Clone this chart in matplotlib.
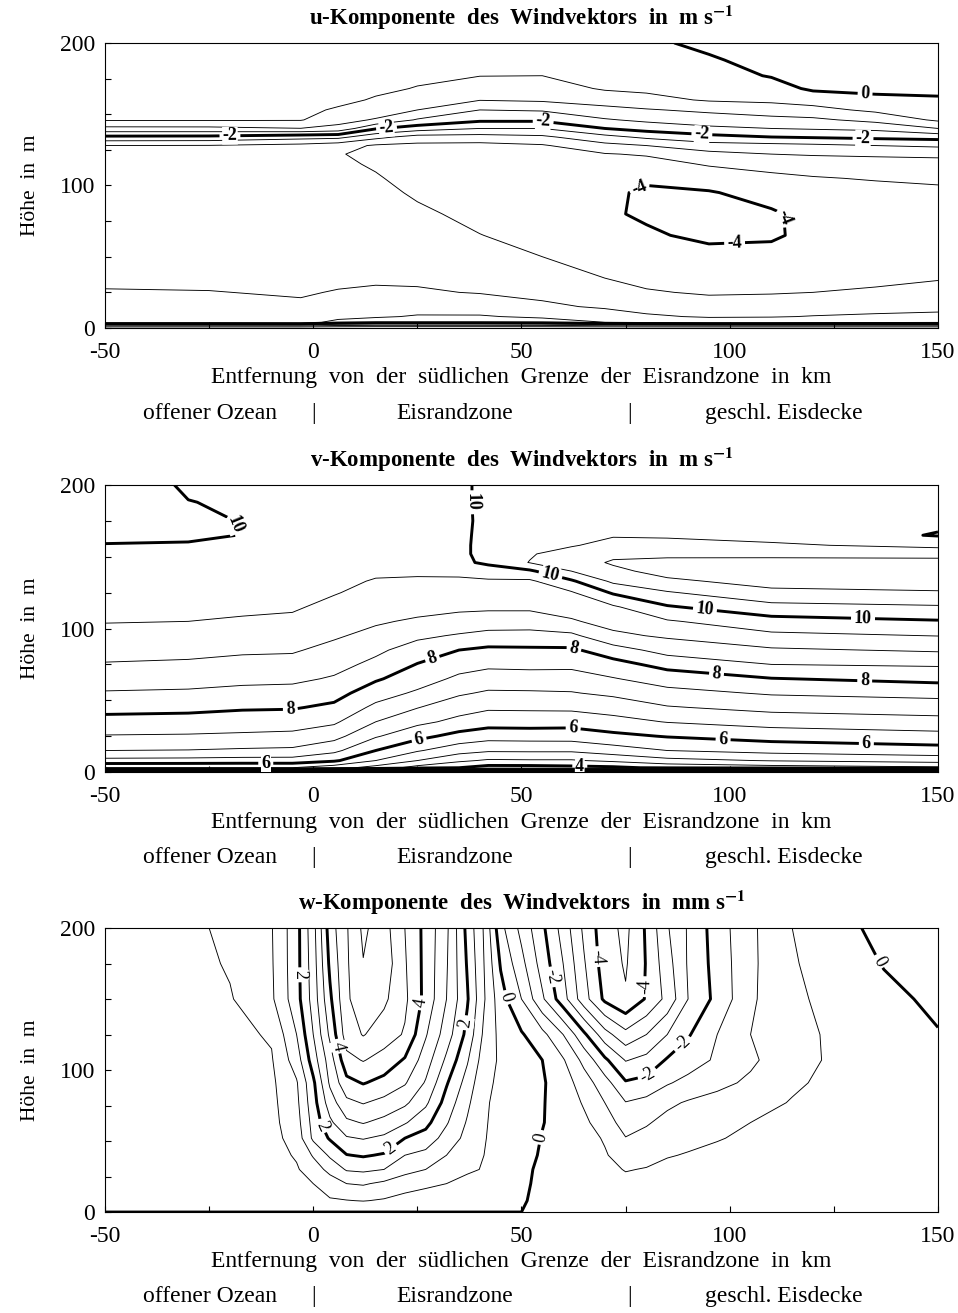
import numpy as np
import matplotlib
matplotlib.use("Agg")
import matplotlib.pyplot as plt
from matplotlib.transforms import blended_transform_factory

plt.rcParams['font.family'] = ['Liberation Serif', 'DejaVu Serif']
plt.rcParams['mathtext.fontset'] = 'stix'
plt.rcParams['axes.unicode_minus'] = False
plt.rcParams['contour.negative_linestyle'] = 'solid'

# ---------------- u-Komponente (m/s) ----------------
u_x = [-50, -25, -3, 6, 15, 25, 40, 55, 70, 80, 95, 110, 120, 135, 150]
u_z = [0, 4, 8, 15, 25, 35, 50, 65, 80, 95, 105, 115, 122, 128, 134, 140,
       146, 153, 160, 168, 177, 188, 200]
# one list per x column, bottom to top
u_cols = [
    [0, -2.7, -2.85, -2.92, -2.98, -3.06, -3.12, -3.17, -3.21, -3.25, -3.28, -3.32, -3.35, -3.0, -2.1, -1.13, -0.45, -0.38, -0.33, -0.3, -0.27, -0.24, -0.2],
    [0, -2.7, -2.85, -2.92, -2.99, -3.07, -3.13, -3.18, -3.22, -3.26, -3.29, -3.33, -3.36, -3.02, -2.12, -1.12, -0.45, -0.38, -0.33, -0.3, -0.27, -0.24, -0.2],
    [0, -2.75, -2.88, -2.95, -3.03, -3.1, -3.18, -3.24, -3.29, -3.33, -3.36, -3.4, -3.44, -3.15, -2.3, -1.01, -0.47, -0.4, -0.36, -0.33, -0.3, -0.27, -0.24],
    [0, -2.3, -2.7, -2.88, -2.98, -3.07, -3.15, -3.22, -3.28, -3.33, -3.37, -3.42, -3.48, -3.3, -2.35, -1.15, -0.82, -0.55, -0.4, -0.35, -0.31, -0.28, -0.25],
    [0, -2.15, -2.57, -2.8, -2.95, -3.05, -3.12, -3.2, -3.28, -3.38, -3.46, -3.55, -3.58, -3.56, -2.85, -1.95, -1.05, -0.72, -0.54, -0.42, -0.36, -0.3, -0.25],
    [0, -2.15, -2.45, -2.75, -2.96, -3.06, -3.18, -3.3, -3.42, -3.56, -3.65, -3.72, -3.7, -3.62, -3.2, -2.25, -1.55, -1.0, -0.75, -0.52, -0.42, -0.35, -0.3],
    [0, -2.15, -2.45, -2.78, -3.02, -3.18, -3.35, -3.49, -3.62, -3.72, -3.78, -3.8, -3.76, -3.65, -3.2, -2.5, -1.9, -1.5, -0.98, -0.75, -0.49, -0.38, -0.3],
    [0, -2.2, -2.6, -2.93, -3.1, -3.28, -3.5, -3.65, -3.8, -3.88, -3.9, -3.85, -3.72, -3.55, -3.1, -2.5, -1.9, -1.45, -0.92, -0.72, -0.5, -0.38, -0.3],
    [0, -2.5, -2.8, -3.05, -3.3, -3.5, -3.7, -3.85, -3.95, -3.93, -3.85, -3.7, -3.53, -3.15, -2.65, -2.0, -1.55, -1.15, -0.78, -0.45, -0.35, -0.25, -0.18],
    [0, -2.6, -2.93, -3.18, -3.46, -3.62, -3.8, -3.95, -4.05, -4.05, -3.95, -3.7, -3.45, -3.0, -2.4, -1.8, -1.4, -1.04, -0.65, -0.4, -0.28, -0.17, -0.08],
    [0, -2.7, -3.05, -3.3, -3.55, -3.7, -3.88, -4.08, -4.15, -4.03, -3.8, -3.45, -3.15, -2.7, -2.15, -1.6, -1.25, -0.9, -0.45, -0.3, -0.18, -0.05, 0.1],
    [0, -2.7, -3.03, -3.28, -3.53, -3.7, -3.88, -4.05, -4.05, -3.85, -3.6, -3.35, -3.0, -2.65, -2.0, -1.5, -1.15, -0.75, -0.4, -0.2, 0.03, 0.15, 0.25],
    [0, -2.65, -2.98, -3.22, -3.5, -3.65, -3.8, -3.9, -3.88, -3.72, -3.53, -3.3, -2.95, -2.6, -1.95, -1.45, -1.1, -0.65, -0.3, 0.08, 0.2, 0.3, 0.38],
    [0, -2.6, -2.93, -3.17, -3.44, -3.6, -3.75, -3.82, -3.78, -3.64, -3.47, -3.22, -2.92, -2.5, -1.88, -1.38, -0.85, -0.4, -0.12, 0.12, 0.25, 0.33, 0.4],
    [0, -2.55, -2.9, -3.12, -3.35, -3.53, -3.67, -3.73, -3.7, -3.57, -3.44, -3.2, -2.88, -2.42, -1.82, -1.0, -0.42, -0.2, -0.05, 0.1, 0.22, 0.3, 0.36],
]
u_levels = np.arange(-4.0, 0.01, 0.5)
u_labels = [(-20, 135), (17.6, 140), (55.2, 144.8), (93.3, 135.4), (132, 133),
            (132.5, 164.7), (78, 100.4), (114, 78), (101.2, 57)]

# ---------------- v-Komponente (m/s) ----------------
v_x = [-50, -30, -17, -5, 5, 15, 25, 35, 42, 52, 62, 72, 85, 110, 150]
v_z = [0, 3, 8, 15, 25, 35, 45, 55, 65, 75, 85, 95, 105, 115, 125, 133, 140,
       146, 152, 158, 165, 175, 188, 200]
v_cols = [
    [0, 5.5, 6.35, 7.0, 7.47, 7.83, 8.16, 8.46, 8.72, 8.97, 9.16, 9.36, 9.52, 9.6, 9.69, 9.77, 9.83, 9.88, 9.94, 9.99, 10.05, 10.14, 10.22, 10.3],
    [0, 5.5, 6.33, 6.98, 7.45, 7.8, 8.13, 8.43, 8.68, 8.93, 9.13, 9.33, 9.5, 9.6, 9.69, 9.77, 9.83, 9.88, 9.93, 9.98, 10.04, 10.06, 10.01, 9.94],
    [0, 5.5, 6.3, 6.93, 7.42, 7.74, 8.06, 8.36, 8.62, 8.86, 9.07, 9.25, 9.46, 9.57, 9.67, 9.75, 9.81, 9.86, 9.9, 9.96, 9.995, 9.99, 9.95, 9.88],
    [0, 5.5, 6.3, 6.9, 7.38, 7.72, 8.04, 8.33, 8.6, 8.84, 9.05, 9.22, 9.4, 9.56, 9.63, 9.68, 9.72, 9.75, 9.78, 9.8, 9.83, 9.85, 9.86, 9.86],
    [0, 5.2, 6.08, 6.62, 7.17, 7.58, 7.9, 8.18, 8.45, 8.66, 8.86, 9.06, 9.22, 9.37, 9.53, 9.6, 9.65, 9.7, 9.73, 9.76, 9.79, 9.82, 9.84, 9.85],
    [0, 4.8, 5.5, 6.0, 6.55, 7.0, 7.38, 7.73, 8.06, 8.38, 8.6, 8.86, 9.06, 9.2, 9.35, 9.47, 9.57, 9.63, 9.68, 9.72, 9.76, 9.8, 9.83, 9.85],
    [0, 4.3, 5.0, 5.55, 6.15, 6.62, 7.02, 7.42, 7.74, 7.98, 8.28, 8.6, 8.93, 9.17, 9.33, 9.45, 9.56, 9.62, 9.67, 9.72, 9.76, 9.8, 9.84, 9.87],
    [0, 4.0, 4.6, 5.2, 5.83, 6.37, 6.69, 7.07, 7.4, 7.7, 8.0, 8.45, 8.82, 9.1, 9.28, 9.43, 9.6, 9.88, 9.9, 9.9, 9.91, 9.91, 9.92, 9.92],
    [0, 3.8, 4.43, 5.07, 5.7, 6.22, 6.57, 6.93, 7.28, 7.6, 7.9, 8.35, 8.75, 9.09, 9.28, 9.44, 9.74, 10.1, 10.15, 10.15, 10.12, 10.1, 10.1, 10.1],
    [0, 3.8, 4.45, 5.08, 5.72, 6.23, 6.58, 6.94, 7.3, 7.62, 7.92, 8.33, 8.75, 9.09, 9.27, 9.42, 9.92, 10.52, 10.45, 10.3, 10.22, 10.18, 10.15, 10.12],
    [0, 3.85, 4.45, 5.08, 5.73, 6.2, 6.6, 6.97, 7.28, 7.62, 7.92, 8.39, 8.95, 9.2, 9.45, 9.93, 10.5, 10.8, 10.75, 10.45, 10.3, 10.22, 10.17, 10.13],
    [0, 3.9, 4.6, 5.27, 5.88, 6.34, 6.7, 7.1, 7.47, 7.82, 8.28, 8.9, 9.17, 9.43, 10.06, 10.6, 10.9, 11.05, 10.9, 10.7, 10.45, 10.3, 10.2, 10.15],
    [0, 4.1, 4.85, 5.5, 6.03, 6.52, 6.96, 7.35, 7.72, 8.17, 8.69, 9.07, 9.45, 9.95, 10.45, 10.92, 11.15, 11.12, 10.9, 10.7, 10.42, 10.3, 10.2, 10.15],
    [0, 4.25, 5.03, 5.67, 6.2, 6.7, 7.15, 7.55, 7.98, 8.5, 8.93, 9.39, 9.82, 10.33, 10.9, 11.15, 11.2, 11.1, 10.92, 10.58, 10.3, 10.22, 10.18, 10.16],
    [0, 4.4, 5.2, 5.8, 6.33, 6.82, 7.25, 7.65, 8.14, 8.56, 9.06, 9.51, 9.96, 10.44, 10.97, 11.15, 11.18, 11.12, 10.88, 10.35, 9.97, 10.1, 10.17, 10.2],
]
v_levels = np.arange(0.0, 11.01, 0.5)
v_labels = [(-20, 172), (38.5, 188), (57, 138), (94, 112), (132, 107),
            (-5.5, 44), (28.5, 80), (62.8, 88.4), (96.8, 67.5), (132.4, 62.8),
            (-11.4, 5.5), (25.3, 24.4), (62.4, 30.3), (98.4, 22.1), (132.8, 19.3),
            (64, 4)]

# ---------------- w-Komponente (mm/s) ----------------
w_x = [-50, -30, -20, -10, -4, 0, 4, 8, 12, 17, 22, 27, 32, 37, 41, 45, 50, 55,
       60, 65, 70, 75, 80, 85, 90, 97, 105, 115, 125, 137, 150]
w_z = [0, 8, 20, 30, 40, 52, 63, 77, 91, 107, 125, 150, 175, 200]
w_cols = [
    [0, 0.1, 0.15, 0.18, 0.2, 0.2, 0.2, 0.2, 0.2, 0.2, 0.2, 0.2, 0.2, 0.2],
    [0, 0.12, 0.18, 0.22, 0.25, 0.27, 0.28, 0.3, 0.3, 0.32, 0.33, 0.33, 0.33, 0.35],
    [0, 0.1, 0.17, 0.22, 0.25, 0.27, 0.28, 0.3, 0.31, 0.34, 0.37, 0.46, 0.55, 0.65],
    [0, 0.15, 0.24, 0.29, 0.32, 0.34, 0.36, 0.38, 0.41, 0.46, 0.55, 0.92, 0.95, 0.97],
    [0, 0.2, 0.35, 0.45, 0.55, 0.7, 0.8, 0.88, 0.95, 1.25, 1.5, 1.8, 1.82, 1.82],
    [0, 0.35, 0.5, 0.75, 1.05, 1.6, 1.68, 1.8, 1.9, 2.25, 2.5, 2.7, 2.76, 2.82],
    [0, 0.45, 0.75, 1.15, 1.58, 2.05, 2.4, 2.75, 3.08, 3.25, 3.6, 3.9, 4.1, 4.25],
    [0, 0.48, 1.0, 1.55, 1.98, 2.45, 2.9, 3.38, 3.85, 4.35, 4.75, 4.92, 4.93, 4.95],
    [0, 0.52, 1.05, 1.6, 2.05, 2.53, 3.03, 3.53, 4.03, 4.53, 5.03, 5.3, 5.48, 5.6],
    [0, 0.45, 0.9, 1.5, 1.95, 2.4, 2.85, 3.35, 3.85, 4.3, 4.75, 5.1, 5.3, 5.2],
    [0, 0.3, 0.75, 1.15, 1.5, 2.0, 2.55, 3.1, 3.55, 3.95, 4.45, 4.6, 4.55, 4.5],
    [0, 0.25, 0.6, 1.0, 1.35, 1.8, 2.15, 2.6, 2.95, 3.25, 3.55, 3.85, 3.85, 3.85],
    [0, 0.2, 0.5, 0.78, 1.0, 1.3, 1.55, 1.8, 2.05, 2.4, 2.75, 3.0, 3.05, 3.1],
    [0, 0.15, 0.4, 0.55, 0.7, 0.85, 0.95, 1.1, 1.3, 1.55, 1.85, 2.05, 1.95, 1.85],
    [0, 0.12, 0.3, 0.48, 0.5, 0.52, 0.53, 0.55, 0.6, 0.75, 0.9, 1.05, 1.0, 0.95],
    [0, 0.1, 0.25, 0.32, 0.36, 0.38, 0.4, 0.4, 0.42, 0.42, 0.35, 0.2, -0.05, -0.35],
    [0, 0.03, 0.08, 0.12, 0.16, 0.2, 0.22, 0.24, 0.25, 0.2, 0.05, -0.5, -0.85, -1.15],
    [0, -0.08, -0.1, -0.1, -0.05, -0.02, 0.02, 0.03, 0.05, 0.0, -0.35, -1.42, -1.72, -1.9],
    [0, -0.1, -0.15, -0.17, -0.17, -0.17, -0.18, -0.2, -0.25, -0.45, -1.0, -2.3, -2.5, -2.7],
    [0, -0.15, -0.22, -0.25, -0.27, -0.3, -0.4, -0.55, -0.75, -1.15, -1.9, -3.3, -3.45, -3.6],
    [0, -0.2, -0.32, -0.4, -0.45, -0.55, -0.75, -1.0, -1.3, -1.9, -2.8, -4.1, -4.25, -4.3],
    [0, -0.25, -0.4, -0.52, -0.75, -0.98, -1.22, -1.48, -1.95, -2.53, -3.35, -4.45, -4.55, -4.62],
    [0, -0.25, -0.38, -0.48, -0.62, -0.85, -1.05, -1.35, -1.85, -2.35, -3.0, -3.95, -3.97, -3.93],
    [0, -0.22, -0.35, -0.42, -0.52, -0.68, -0.85, -1.1, -1.55, -1.95, -2.5, -3.35, -3.2, -3.05],
    [0, -0.2, -0.32, -0.4, -0.48, -0.58, -0.72, -0.95, -1.35, -1.75, -2.05, -2.5, -2.45, -2.45],
    [0, -0.18, -0.28, -0.35, -0.42, -0.52, -0.62, -0.8, -1.15, -1.42, -1.5, -1.85, -1.8, -1.75],
    [0, -0.15, -0.25, -0.32, -0.37, -0.44, -0.5, -0.62, -0.9, -1.1, -1.0, -1.08, -1.1, -1.1],
    [0, -0.13, -0.22, -0.28, -0.33, -0.37, -0.42, -0.48, -0.55, -0.62, -0.62, -0.58, -0.55, -0.5],
    [0, -0.1, -0.18, -0.24, -0.28, -0.32, -0.35, -0.38, -0.42, -0.45, -0.44, -0.38, -0.25, -0.15],
    [0, -0.08, -0.14, -0.18, -0.22, -0.25, -0.27, -0.3, -0.3, -0.28, -0.2, -0.1, 0.02, 0.12],
    [0, -0.06, -0.1, -0.14, -0.17, -0.2, -0.21, -0.22, -0.2, -0.12, -0.02, 0.08, 0.15, 0.2],
]
w_levels = np.arange(-4.5, 5.51, 0.5)
w_labels = [(-4.4, 167), (2.4, 61), (18.8, 43.7), (37.3, 133), (4.8, 116),
            (26.4, 147), (47.2, 151.6), (54, 53), (57.6, 165.7), (79.6, 98.8),
            (88.5, 118.8), (68, 179.8), (79.6, 158.7), (136.5, 177.5)]

titles = [r"u-Komponente  des  Windvektors  in  m s$^{\mathbf{-1}}$",
          r"v-Komponente  des  Windvektors  in  m s$^{\mathbf{-1}}$",
          r"w-Komponente  des  Windvektors  in  mm s$^{\mathbf{-1}}$"]
xlabel = "Entfernung  von  der  südlichen  Grenze  der  Eisrandzone  in  km"
zones = [(-24.8, "offener Ozean"), (0, "|"), (34, "Eisrandzone"),
         (76, "|"), (113, "geschl. Eisdecke")]


def draw_panel(ax, x, z, cols, levels, label_pos, title, bold_labels=True):
    field = np.array(cols).T
    thin = [l for l in levels if abs(l) % 2 != 0]
    thick = [l for l in levels if abs(l) % 2 == 0]
    ax.contour(x, z, field, levels=thin, colors='black', linewidths=0.65)
    cs = ax.contour(x, z, field, levels=thick, colors='black', linewidths=2.1)
    labels = ax.clabel(cs, fmt='%g', manual=label_pos, inline=True,
                       inline_spacing=3, fontsize=13)
    for t in labels:
        if bold_labels:
            t.set_fontweight('bold')
        t.set_bbox(dict(facecolor='white', edgecolor='none', pad=0.2))

    ax.set_xlim(-50, 150)
    ax.set_ylim(0, 200)
    ax.set_xticks([-50, 0, 50, 100, 150])
    ax.set_xticks(np.arange(-50, 151, 25), minor=True)
    ax.set_yticks([0, 100, 200])
    ax.set_yticks(np.arange(0, 201, 25), minor=True)
    ax.tick_params(which='both', direction='in', top=False, right=False,
                   length=4, width=0.8, labelsize=17)
    ax.tick_params(axis='x', pad=10)
    ax.tick_params(axis='y', pad=7)
    for s in ax.spines.values():
        s.set_linewidth(0.8)

    ax.set_ylabel("Höhe  in  m", fontsize=15.5)
    ax.yaxis.set_label_coords(-0.078, 0.5)
    ax.text(0.5, 1 + 25 / 285, title, transform=ax.transAxes,
            ha='center', va='center', fontsize=16.5, fontweight='bold')
    ax.text(0.5, -50 / 285, xlabel, transform=ax.transAxes,
            ha='center', va='center', fontsize=17)
    trans = blended_transform_factory(ax.transData, ax.transAxes)
    for xpos, txt in zones:
        ax.text(xpos, -85 / 285, txt, transform=trans,
                ha='center', va='center', fontsize=17)


fig = plt.figure(figsize=(9.58, 13.13), dpi=100)
ax1 = fig.add_axes([0.1096, 0.7502, 0.8695, 0.2171])
ax2 = fig.add_axes([0.1096, 0.4120, 0.8695, 0.2186])
ax3 = fig.add_axes([0.1096, 0.0769, 0.8695, 0.2163])

draw_panel(ax1, u_x, u_z, u_cols, u_levels, u_labels, titles[0])
draw_panel(ax2, v_x, v_z, v_cols, v_levels, v_labels, titles[1])
draw_panel(ax3, w_x, w_z, w_cols, w_levels, w_labels, titles[2], bold_labels=False)

fig.savefig("out.png", dpi=100)
